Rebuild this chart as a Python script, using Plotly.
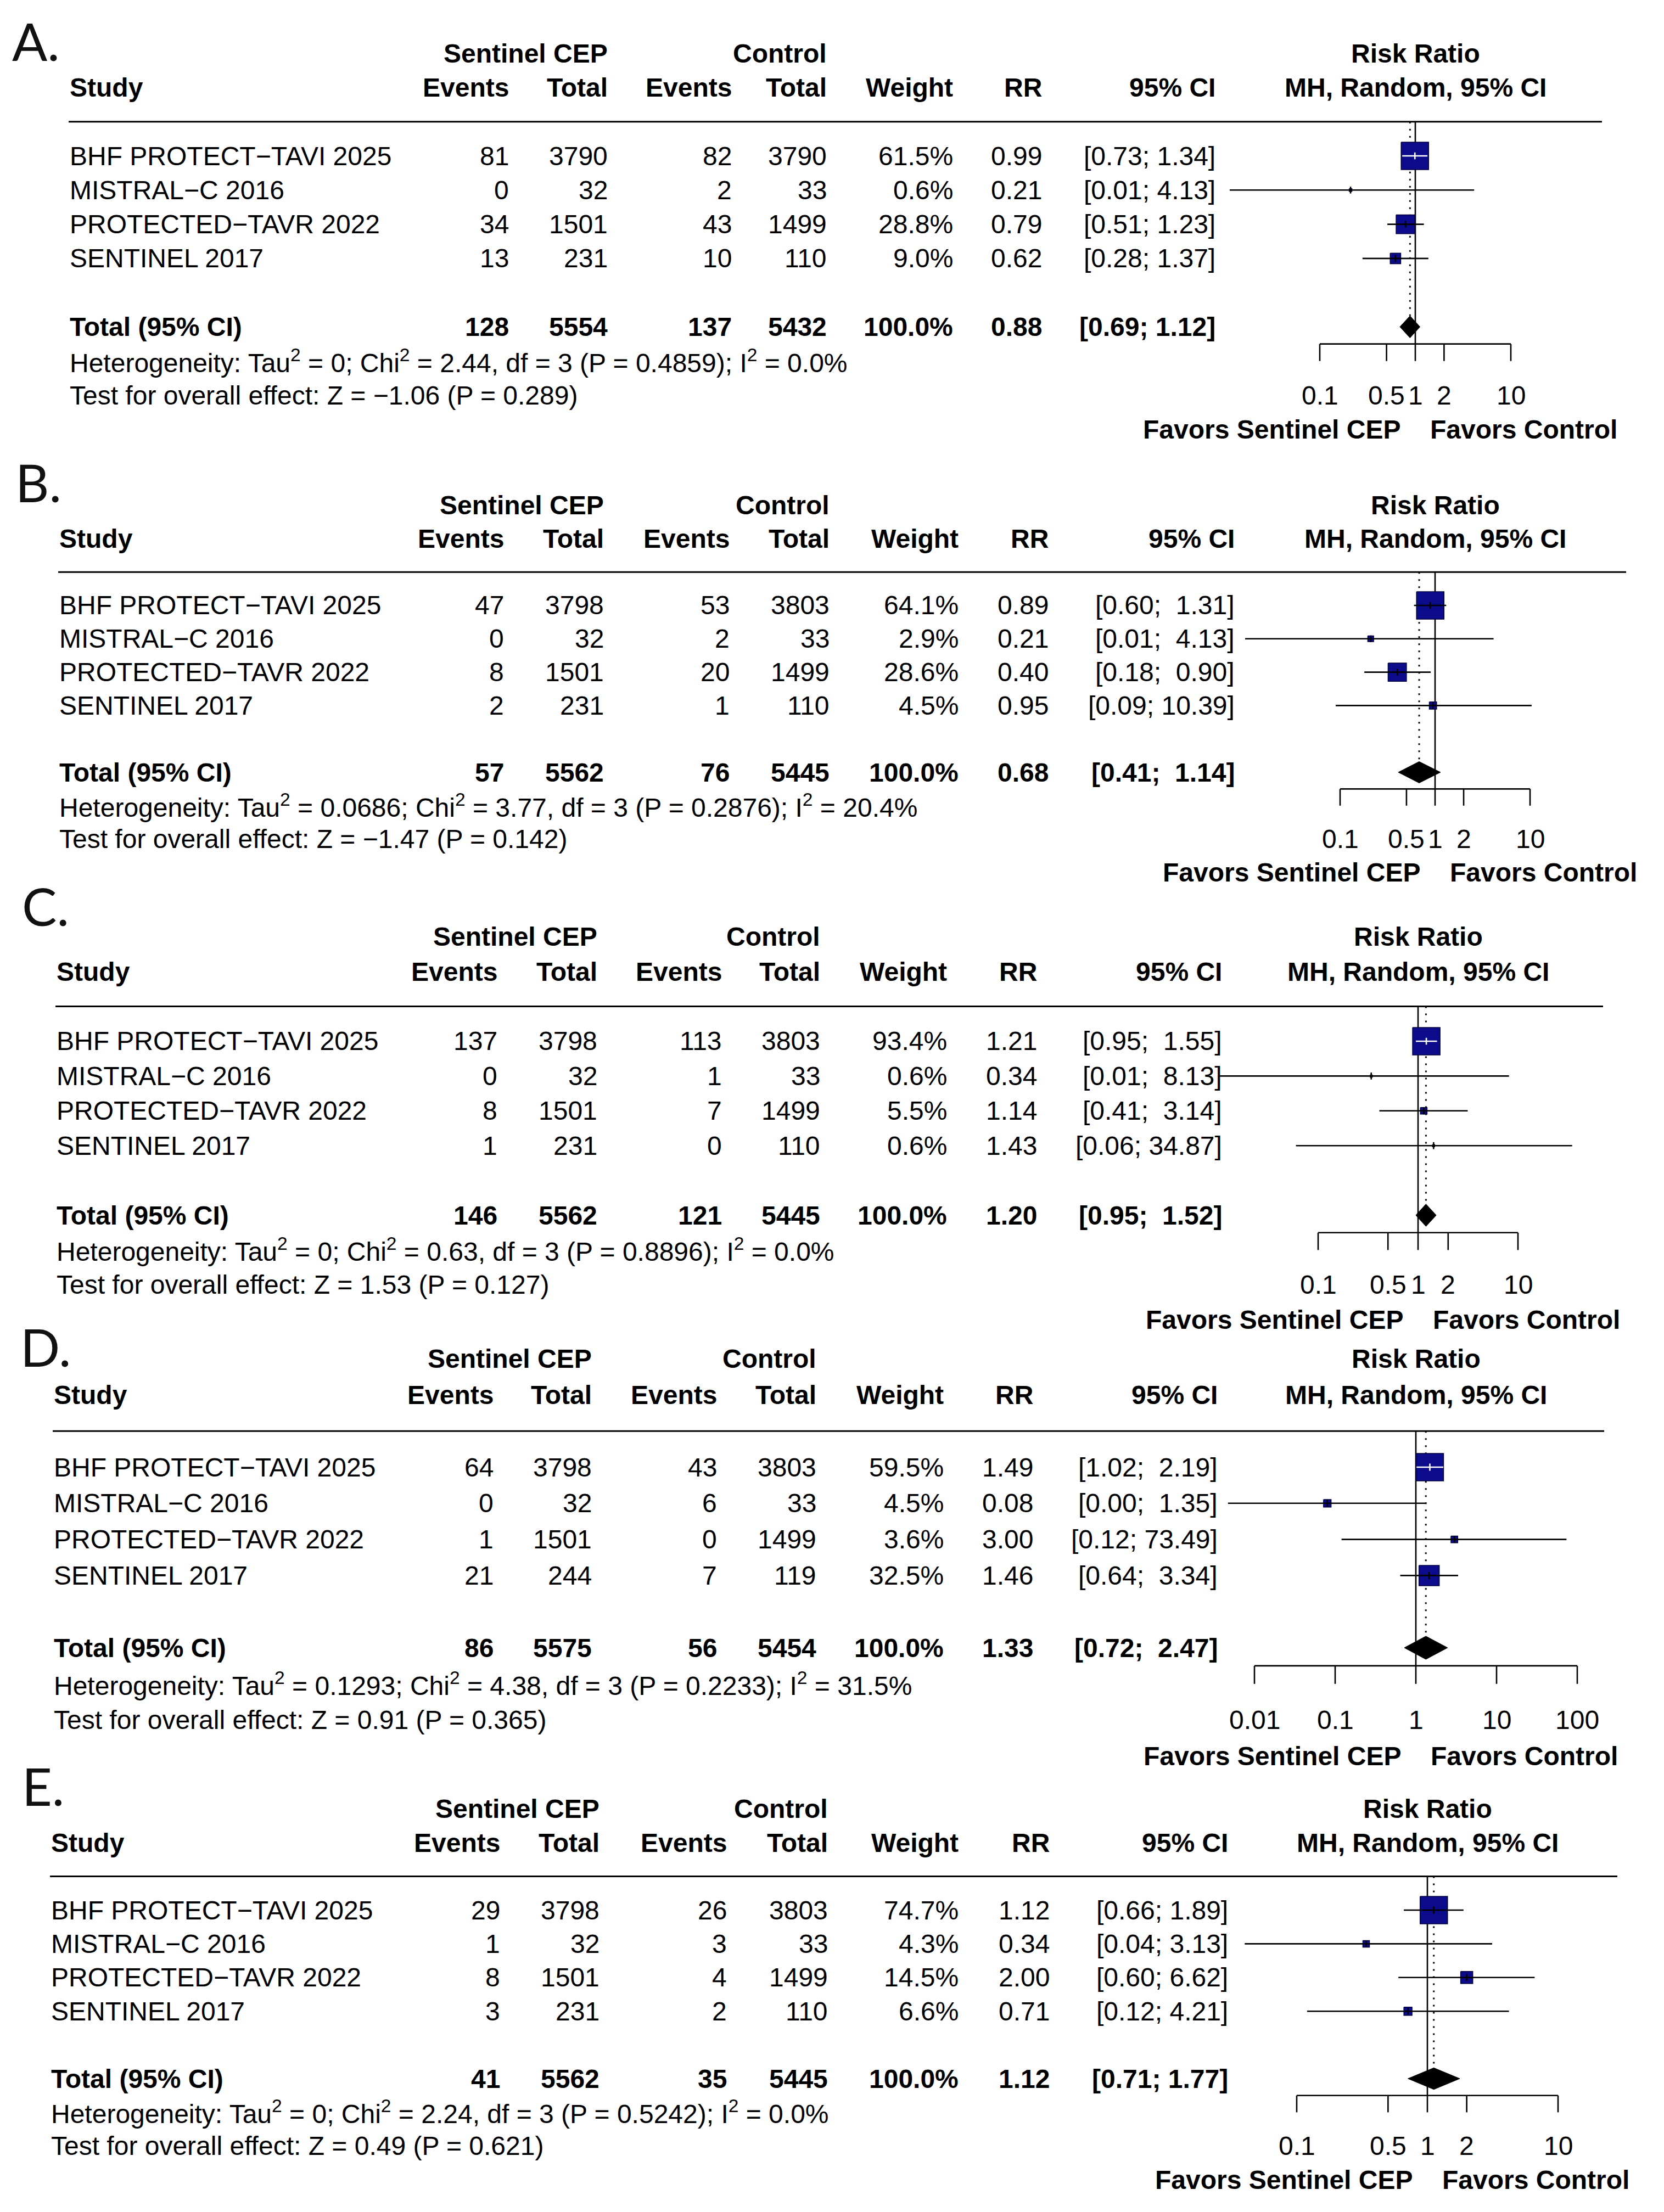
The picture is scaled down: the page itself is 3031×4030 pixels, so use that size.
import math
import plotly.graph_objects as go

W, H = 3031, 4030
FONT = "Liberation Sans"
LABEL_FONT = "Lato"
FS = 48

studies = ["BHF PROTECT\u2212TAVI 2025", "MISTRAL\u2212C 2016", "PROTECTED\u2212TAVR 2022", "SENTINEL 2017"]
header_groups = ["Sentinel CEP", "Control", "Risk Ratio"]
header_cols = ["Study", "Events", "Total", "Events", "Total", "Weight", "RR", "95% CI", "MH, Random, 95% CI"]
favors_labels = ["Favors Sentinel CEP", "Favors Control"]
total_label = "Total (95% CI)"

# ---------------- Panel A ----------------
A_events_cep = [81, 0, 34, 13]
A_total_cep = [3790, 32, 1501, 231]
A_events_ctl = [82, 2, 43, 10]
A_total_ctl = [3790, 33, 1499, 110]
A_weight = [61.5, 0.6, 28.8, 9.0]
A_rr = [0.99, 0.21, 0.79, 0.62]
A_low = [0.73, 0.0114, 0.51, 0.28]
A_high = [1.34, 4.13, 1.23, 1.37]
A_sum_counts = [128, 5554, 137, 5432]
A_sum_rr = [0.88, 0.69, 1.12]
A_het = "Heterogeneity: Tau<sup>2</sup> = 0; Chi<sup>2</sup> = 2.44, df = 3 (P = 0.4859); I<sup>2</sup> = 0.0%"
A_test = "Test for overall effect: Z = \u22121.06 (P = 0.289)"
A_ticks = [0.1, 0.5, 1, 2, 10]
A_ticklabels = ["0.1", "0.5", "1", "2", "10"]

# ---------------- Panel B ----------------
B_events_cep = [47, 0, 8, 2]
B_total_cep = [3798, 32, 1501, 231]
B_events_ctl = [53, 2, 20, 1]
B_total_ctl = [3803, 33, 1499, 110]
B_weight = [64.1, 2.9, 28.6, 4.5]
B_rr = [0.89, 0.21, 0.40, 0.95]
B_low = [0.60, 0.01, 0.18, 0.09]
B_high = [1.31, 4.13, 0.90, 10.39]
B_sum_counts = [57, 5562, 76, 5445]
B_sum_rr = [0.68, 0.41, 1.14]
B_het = "Heterogeneity: Tau<sup>2</sup> = 0.0686; Chi<sup>2</sup> = 3.77, df = 3 (P = 0.2876); I<sup>2</sup> = 20.4%"
B_test = "Test for overall effect: Z = \u22121.47 (P = 0.142)"
B_ticks = [0.1, 0.5, 1, 2, 10]
B_ticklabels = ["0.1", "0.5", "1", "2", "10"]

# ---------------- Panel C ----------------
C_events_cep = [137, 0, 8, 1]
C_total_cep = [3798, 32, 1501, 231]
C_events_ctl = [113, 1, 7, 0]
C_total_ctl = [3803, 33, 1499, 110]
C_weight = [93.4, 0.6, 5.5, 0.6]
C_rr = [1.21, 0.34, 1.14, 1.43]
C_low = [0.95, 0.01, 0.41, 0.06]
C_high = [1.55, 8.13, 3.14, 34.87]
C_sum_counts = [146, 5562, 121, 5445]
C_sum_rr = [1.20, 0.95, 1.52]
C_het = "Heterogeneity: Tau<sup>2</sup> = 0; Chi<sup>2</sup> = 0.63, df = 3 (P = 0.8896); I<sup>2</sup> = 0.0%"
C_test = "Test for overall effect: Z = 1.53 (P = 0.127)"
C_ticks = [0.1, 0.5, 1, 2, 10]
C_ticklabels = ["0.1", "0.5", "1", "2", "10"]

# ---------------- Panel D ----------------
D_events_cep = [64, 0, 1, 21]
D_total_cep = [3798, 32, 1501, 244]
D_events_ctl = [43, 6, 0, 7]
D_total_ctl = [3803, 33, 1499, 119]
D_weight = [59.5, 4.5, 3.6, 32.5]
D_rr = [1.49, 0.08, 3.00, 1.46]
D_low = [1.02, 0.0047, 0.12, 0.64]
D_high = [2.19, 1.35, 73.49, 3.34]
D_sum_counts = [86, 5575, 56, 5454]
D_sum_rr = [1.33, 0.72, 2.47]
D_het = "Heterogeneity: Tau<sup>2</sup> = 0.1293; Chi<sup>2</sup> = 4.38, df = 3 (P = 0.2233); I<sup>2</sup> = 31.5%"
D_test = "Test for overall effect: Z = 0.91 (P = 0.365)"
D_ticks = [0.01, 0.1, 1, 10, 100]
D_ticklabels = ["0.01", "0.1", "1", "10", "100"]

# ---------------- Panel E ----------------
E_events_cep = [29, 1, 8, 3]
E_total_cep = [3798, 32, 1501, 231]
E_events_ctl = [26, 3, 4, 2]
E_total_ctl = [3803, 33, 1499, 110]
E_weight = [74.7, 4.3, 14.5, 6.6]
E_rr = [1.12, 0.34, 2.00, 0.71]
E_low = [0.66, 0.04, 0.60, 0.12]
E_high = [1.89, 3.13, 6.62, 4.21]
E_sum_counts = [41, 5562, 35, 5445]
E_sum_rr = [1.12, 0.71, 1.77]
E_het = "Heterogeneity: Tau<sup>2</sup> = 0; Chi<sup>2</sup> = 2.24, df = 3 (P = 0.5242); I<sup>2</sup> = 0.0%"
E_test = "Test for overall effect: Z = 0.49 (P = 0.621)"
E_ticks = [0.1, 0.5, 1, 2, 10]
E_ticklabels = ["0.1", "0.5", "1", "2", "10"]

panels_data = [
    ("A.", A_events_cep, A_total_cep, A_events_ctl, A_total_ctl, A_weight, A_rr, A_low, A_high,
     A_sum_counts, A_sum_rr, A_het, A_test, A_ticks, A_ticklabels),
    ("B.", B_events_cep, B_total_cep, B_events_ctl, B_total_ctl, B_weight, B_rr, B_low, B_high,
     B_sum_counts, B_sum_rr, B_het, B_test, B_ticks, B_ticklabels),
    ("C.", C_events_cep, C_total_cep, C_events_ctl, C_total_ctl, C_weight, C_rr, C_low, C_high,
     C_sum_counts, C_sum_rr, C_het, C_test, C_ticks, C_ticklabels),
    ("D.", D_events_cep, D_total_cep, D_events_ctl, D_total_ctl, D_weight, D_rr, D_low, D_high,
     D_sum_counts, D_sum_rr, D_het, D_test, D_ticks, D_ticklabels),
    ("E.", E_events_cep, E_total_cep, E_events_ctl, E_total_ctl, E_weight, E_rr, E_low, E_high,
     E_sum_counts, E_sum_rr, E_het, E_test, E_ticks, E_ticklabels),
]

# ---------------- layout (pixel positions) ----------------
panel_layout = [
    dict(label_xy=(20, 74), row0=284, step=62.3,
         cols=[125, 929, 1109, 1335, 1508, 1738, 1900, 2216], x_one=2578, decade=174, rule_end=2918),
    dict(label_xy=(26, 878), row0=1103, step=60.8,
         cols=[106, 920, 1102, 1331, 1513, 1748, 1912, 2251], x_one=2614, decade=173, rule_end=2962),
    dict(label_xy=(38, 1650), row0=1897, step=63.4,
         cols=[101, 908, 1090, 1317, 1496, 1727, 1891, 2228], x_one=2583, decade=182, rule_end=2920),
    dict(label_xy=(35, 2453), row0=2673, step=65.8,
         cols=[96, 901, 1080, 1308, 1489, 1721, 1884, 2220], x_one=2579, decade=147, rule_end=2922),
    dict(label_xy=(38, 3253), row0=3480, step=61.4,
         cols=[91, 913, 1094, 1326, 1510, 1748, 1914, 2239], x_one=2600, decade=238, rule_end=2946),
]

XL, XR = 2120, 3025
Y_TOP, Y_BOT = -1.6, 6.4
SQ_MAX = 50
SQ_FILL = "#0b0b8c"
SQ_EDGE = "#00003c"
LW = 2.6
DIAMOND_HALF = 0.32
TICK_ROWS = 0.5
NB = "\u00a0"

fig = go.Figure()
annotations = []
shapes = []
layout_axes = {}


def px2x(px):
    return px / W


def py2y(py):
    return 1 - py / H


def fmt_ci(lo, hi, width):
    h = f"{hi:.2f}"
    pad = NB * (width - len(h))
    return f"[{lo:.2f};{NB}{pad}{h}]"


for i, (pdata, pl) in enumerate(zip(panels_data, panel_layout)):
    (label, ev1, n1, ev2, n2, wt, rr, lo, hi, sums, srr, het, test, ticks, ticklabels) = pdata
    k = "" if i == 0 else str(i + 1)
    xa, ya = "x" + k, "y" + k
    row0, step, cols = pl["row0"], pl["step"], pl["cols"]
    dec = pl["decade"]

    def rowy(row):
        return py2y(row0 + row * step)

    # axes
    top_py = row0 + Y_TOP * step
    bot_py = row0 + Y_BOT * step
    layout_axes["yaxis" + k] = dict(domain=[py2y(bot_py), py2y(top_py)], range=[Y_BOT, Y_TOP],
                                    visible=False, fixedrange=True)
    layout_axes["xaxis" + k] = dict(
        domain=[px2x(XL), px2x(XR)], type="log",
        range=[(XL - pl["x_one"]) / dec, (XR - pl["x_one"]) / dec],
        anchor=ya, visible=False, fixedrange=True)

    def txt(x, row, text, anchor="right", bold=False, xref="paper", xshift=0):
        annotations.append(dict(
            x=x, y=rowy(row), xref=xref, yref="paper", text=f"<b>{text}</b>" if bold else text,
            showarrow=False, xanchor=anchor, yanchor="middle", xshift=xshift,
            font=dict(family=FONT, size=FS, color="black")))

    # panel label
    lx, ly = pl["label_xy"]
    annotations.append(dict(x=px2x(lx), y=py2y(ly), xref="paper", yref="paper", text=label,
                            showarrow=False, xanchor="left", yanchor="middle",
                            font=dict(family=LABEL_FONT, size=95, color="#111111")))

    # headers
    txt(px2x(cols[2]), -3, header_groups[0], bold=True)
    txt(px2x(cols[4]), -3, header_groups[1], bold=True)
    txt(0, -3, header_groups[2], anchor="center", bold=True, xref=xa)
    txt(px2x(cols[0]), -2, header_cols[0], anchor="left", bold=True)
    for c, name in zip(cols[1:], header_cols[1:8]):
        txt(px2x(c), -2, name, bold=True)
    txt(0, -2, header_cols[8], anchor="center", bold=True, xref=xa)

    # header rule
    shapes.append(dict(type="line", xref="paper", yref="paper",
                       x0=px2x(cols[0]), x1=px2x(pl["rule_end"]),
                       y0=rowy(-1), y1=rowy(-1),
                       line=dict(color="black", width=3)))

    # study rows
    width = max(len(f"{v:.2f}") for v in hi + [srr[2]])
    for r in range(4):
        txt(px2x(cols[0]), r, studies[r], anchor="left")
        vals = [str(ev1[r]), str(n1[r]), str(ev2[r]), str(n2[r]), f"{wt[r]:.1f}%", f"{rr[r]:.2f}",
                fmt_ci(lo[r], hi[r], width)]
        for c, v in zip(cols[1:], vals):
            txt(px2x(c), r, v)

    # total row
    txt(px2x(cols[0]), 5, total_label, anchor="left", bold=True)
    tvals = [str(sums[0]), str(sums[1]), str(sums[2]), str(sums[3]), "100.0%", f"{srr[0]:.2f}",
             fmt_ci(srr[1], srr[2], width)]
    for c, v in zip(cols[1:], tvals):
        txt(px2x(c), 5, v, bold=True)
    txt(px2x(cols[0]), 6, het, anchor="left")
    txt(px2x(cols[0]), 7, test, anchor="left")

    # axis tick labels and favours labels
    for t, tl in zip(ticks, ticklabels):
        txt(math.log10(t), 7, tl, anchor="center", xref=xa)
    txt(0, 8, favors_labels[0], anchor="right", bold=True, xref=xa, xshift=-25)
    txt(0, 8, favors_labels[1], anchor="left", bold=True, xref=xa, xshift=25)

    def add_lines(xs, ys, color="black", width=LW, dash=None):
        fig.add_trace(go.Scatter(x=xs, y=ys, xaxis=xa, yaxis=ya, mode="lines",
                                 line=dict(color=color, width=width, dash=dash),
                                 hoverinfo="skip"))

    # reference lines (line of no effect, pooled estimate)
    add_lines([1, 1], [-1, 5.5])
    add_lines([srr[0], srr[0]], [-1, 5 - DIAMOND_HALF], width=3, dash="3px,10px")

    # x axis: baseline + ticks
    ax_x, ax_y = [ticks[0], ticks[-1], None], [5.5, 5.5, None]
    for t in ticks:
        ax_x += [t, t, None]
        ax_y += [5.5, 5.5 + TICK_ROWS, None]
    add_lines(ax_x, ax_y)

    # squares (side proportional to sqrt(weight))
    wmax = max(wt)
    sizes = [SQ_MAX * math.sqrt(w / wmax) for w in wt]
    sq_x, sq_y = [], []
    for r in range(4):
        hx = 10 ** (sizes[r] / 2 / dec)
        hy = sizes[r] / 2 / step
        sq_x += [rr[r] / hx, rr[r] * hx, rr[r] * hx, rr[r] / hx, rr[r] / hx, None]
        sq_y += [r - hy, r - hy, r + hy, r + hy, r - hy, None]
    fig.add_trace(go.Scatter(x=sq_x, y=sq_y, xaxis=xa, yaxis=ya, mode="lines", fill="toself",
                             fillcolor=SQ_FILL, line=dict(color=SQ_EDGE, width=1.5),
                             hoverinfo="skip"))

    # confidence interval lines and point-estimate ticks
    blk_x, blk_y, wht_x, wht_y = [], [], [], []
    tk_bx, tk_by, tk_wx, tk_wy = [], [], [], []
    for r in range(4):
        half = sizes[r] / 2
        inside = (dec * math.log10(rr[r] / lo[r]) <= half and dec * math.log10(hi[r] / rr[r]) <= half)
        seg_x, seg_y = [lo[r], hi[r], None], [r, r, None]
        tk_x, tk_y = [rr[r], rr[r], None], [r - 0.1, r + 0.1, None]
        if inside:
            wht_x += seg_x; wht_y += seg_y; tk_wx += tk_x; tk_wy += tk_y
        else:
            blk_x += seg_x; blk_y += seg_y; tk_bx += tk_x; tk_by += tk_y
    if blk_x:
        add_lines(blk_x + tk_bx, blk_y + tk_by)
    if wht_x:
        add_lines(wht_x + tk_wx, wht_y + tk_wy, color="white")

    # pooled diamond
    fig.add_trace(go.Scatter(
        x=[srr[1], srr[0], srr[2], srr[0], srr[1]],
        y=[5, 5 - DIAMOND_HALF, 5, 5 + DIAMOND_HALF, 5],
        xaxis=xa, yaxis=ya, mode="lines", fill="toself", fillcolor="black",
        line=dict(color="black", width=1), hoverinfo="skip"))

fig.update_layout(
    width=W, height=H, margin=dict(l=0, r=0, t=0, b=0),
    paper_bgcolor="white", plot_bgcolor="rgba(0,0,0,0)",
    showlegend=False, annotations=annotations, shapes=shapes,
    font=dict(family=FONT, size=FS, color="black"),
    **layout_axes)

fig.write_html("out.html", config={"displayModeBar": False},
               post_script="document.body.style.margin='0px';document.body.style.padding='0px';")
